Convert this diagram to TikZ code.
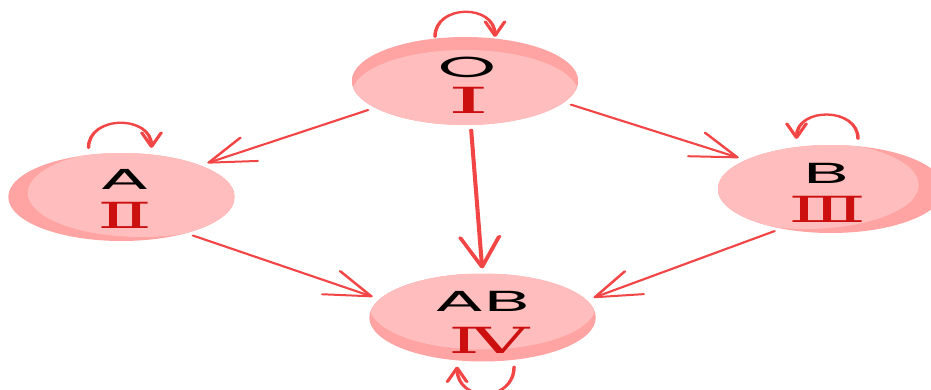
\documentclass[tikz,border=0pt]{standalone}
\usepackage{fontspec}
\usepackage{graphicx}
\usetikzlibrary{arrows.meta,shapes.geometric}
\newfontfamily\letterfont{Poppins}
\newfontfamily\numfont{DejaVu Serif}
\definecolor{blobfill}{HTML}{FFBDBD}
\definecolor{blobshade}{HTML}{FFA3A3}
\definecolor{linkred}{HTML}{F24545}
\definecolor{numred}{HTML}{CC1010}

\begin{document}
\begin{tikzpicture}[x=1pt,y=-1pt,
  blob/.style={ellipse, minimum width=151pt, minimum height=88pt, inner sep=0pt,
    path picture={
      \fill[blobshade] (path picture bounding box.south west) rectangle (path picture bounding box.north east);
      \fill[blobfill] ([shift={#1}]path picture bounding box.center) ellipse [x radius=75.5pt, y radius=44pt];
    }},
  letter/.style={inner sep=0pt, font=\letterfont\fontsize{29}{29}\selectfont},
  numeral/.style={inner sep=0pt, text=numred, font=\numfont\fontsize{36}{36}\selectfont},
  link/.style={draw=linkred, line width=2pt, line cap=round, shorten <=5pt, shorten >=5pt,
    -{Straight Barb[length=30pt,width=26pt,round]}},
  selfloop/.style={draw=linkred, line width=2.3pt, line cap=round,
    -{Straight Barb[length=14pt,width=13pt,round]}},
]
\useasboundingbox (0,0) rectangle (931,390);
\begin{scope}[transform canvas={xscale=1.5}]
  % blood group blobs, each with a darker rim on one side
  \node[blob={(0pt,-13pt)}] (O)  at (310,81)    {};
  \node[blob={(13pt,4pt)}]  (A)  at (81,197)    {};
  \node[blob={(-17pt,4pt)}] (B)  at (554,189) {};
  \node[blob={(0pt,12pt)}]  (AB) at (321.7,317.5) {};

  % labels
  \node[letter]  (Oname)  at (311.3,67)  {\scalebox{1.7}[1]{O}};
  \node[numeral] (Onum)   at (312.3,100.5) {\scalebox{2.0}[1]{Ⅰ}};
  \node[letter]  (Aname)  at (83,179)    {\scalebox{1.7}[1]{A}};
  \node[numeral] (Anum)   at (83.3,215)  {\scalebox{1.5}[1]{Ⅱ}};
  \node[letter]  (Bname)  at (550.7,173) {\scalebox{1.7}[1]{B}};
  \node[numeral] (Bnum)   at (551.7,209) {\scalebox{1.5}[1]{Ⅲ}};
  \node[letter]  (ABname) at (321.3,301) {\scalebox{1.7}[1]{AB}};
  \node[numeral] (ABnum)  at (325.7,340) {\scalebox{1.5}[1]{Ⅳ}};

  % transfusion links
  \draw[link] (O.204) -- (A.31);
  \draw[link] (O.-18) -- (B.153);
  \draw[link, line width=2.7pt] (O.-85) -- (AB.90);
  \draw[link] (A.-40) -- (AB.165);
  \draw[link] (B.-130) -- (AB.14);

  % self loops
  \draw[selfloop] ([xshift=-20pt]O.north) .. controls +(0pt,33pt) and +(0pt,33pt) .. ([xshift=20pt]O.north);
  \draw[selfloop] ([xshift=-22pt,yshift=5pt]A.north) .. controls +(0pt,33pt) and +(0pt,33pt) .. ([xshift=20pt,yshift=5pt]A.north);
  \draw[selfloop] ([xshift=18pt,yshift=6pt]B.north) .. controls +(0pt,32pt) and +(0pt,32pt) .. ([xshift=-23pt,yshift=6pt]B.north);
  \draw[selfloop] ([xshift=21pt,yshift=-5pt]AB.south) .. controls +(0pt,-36pt) and +(0pt,-36pt) .. ([xshift=-17pt,yshift=-5pt]AB.south);
\end{scope}
\end{tikzpicture}
\end{document}
